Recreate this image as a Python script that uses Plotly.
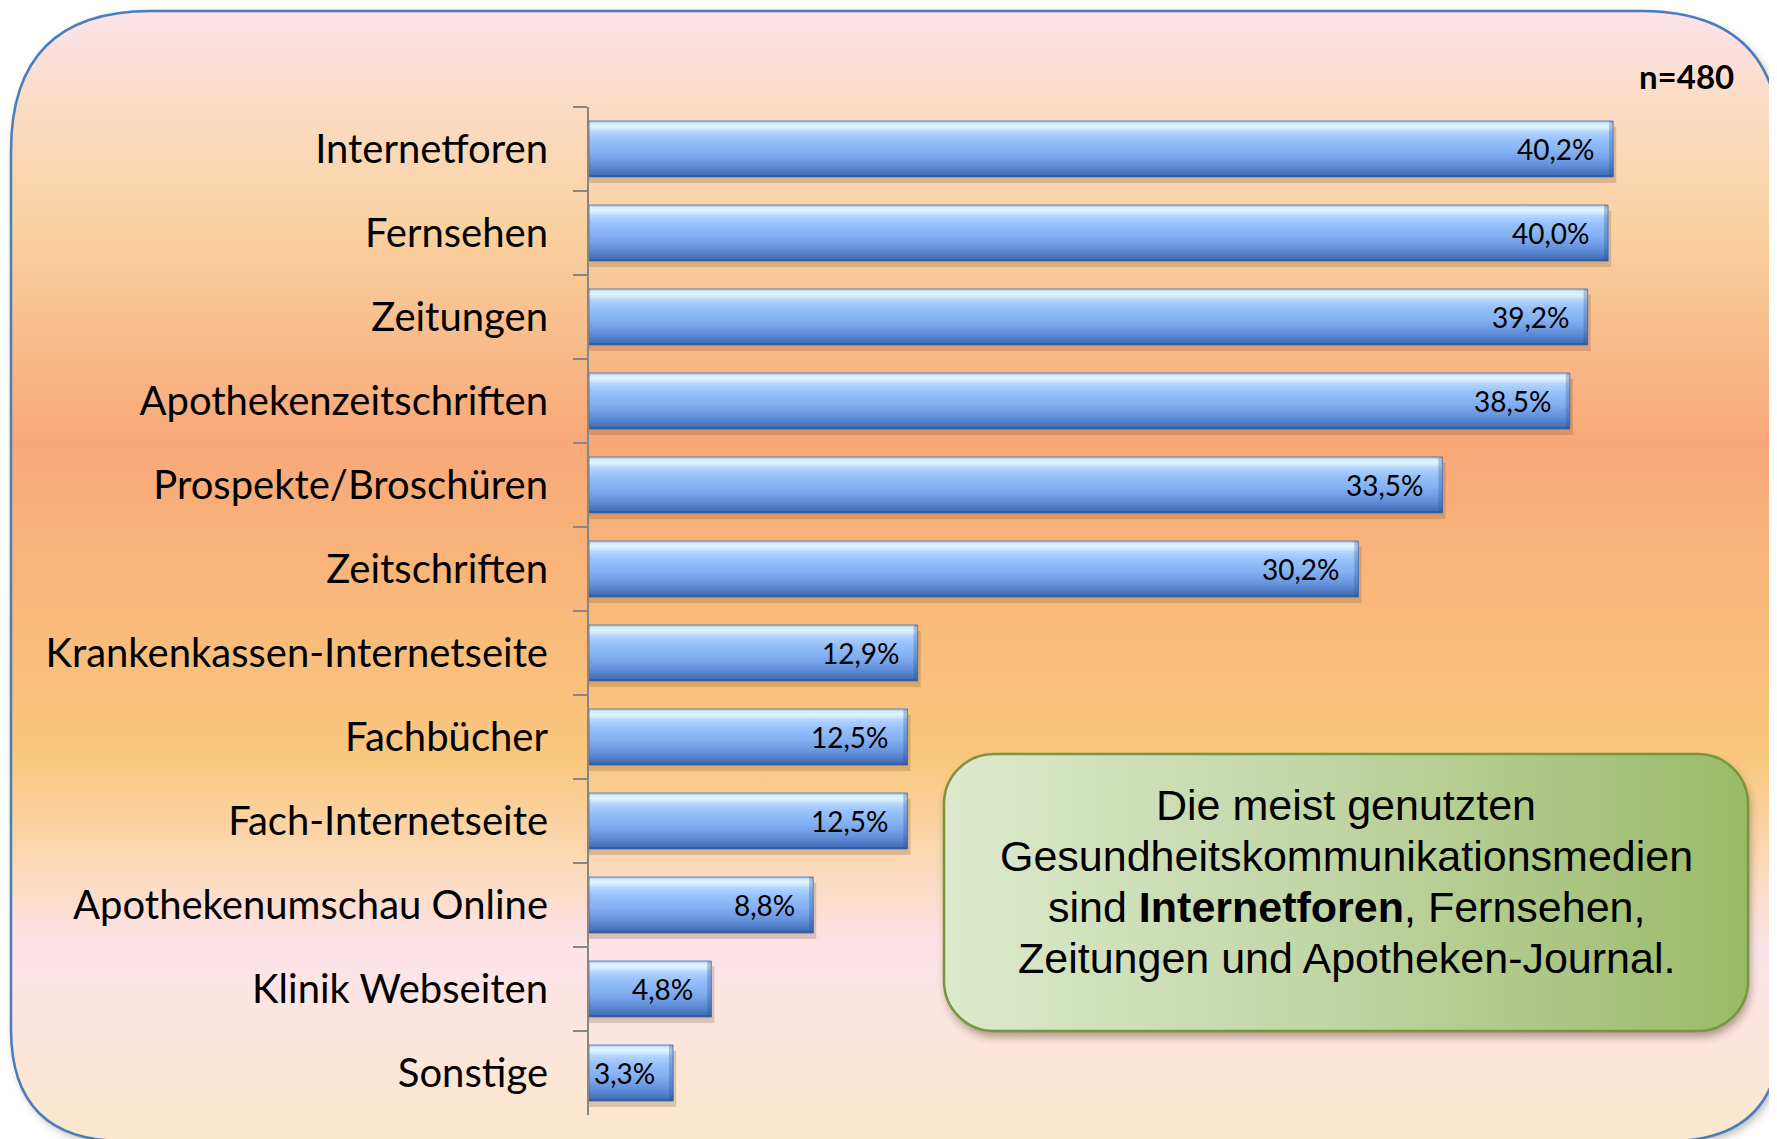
import base64
import plotly.graph_objects as go

# ---------------- data ----------------
categories = [
    "Internetforen", "Fernsehen", "Zeitungen", "Apothekenzeitschriften",
    "Prospekte/Broschüren", "Zeitschriften", "Krankenkassen-Internetseite",
    "Fachbücher", "Fach-Internetseite", "Apothekenumschau Online",
    "Klinik Webseiten", "Sonstige",
]
values = [40.2, 40.0, 39.2, 38.5, 33.5, 30.2, 12.9, 12.5, 12.5, 8.8, 4.8, 3.3]
value_labels = [f"{v:.1f}".replace(".", ",") + "%" for v in values]
sample_label = "n=480"
box_lines = [
    "Die meist genutzten",
    "Gesundheitskommunikationsmedien",
    "sind <b>Internetforen</b>, Fernsehen,",
    "Zeitungen und Apotheken-Journal.",
]

# ---------------- geometry ----------------
W, H = 1777, 1139
OFF = 8  # page body margin of the html output
PLOT_L, PLOT_R, PLOT_T, PLOT_B = 589, 1659, 107, 1115  # in screenshot pixels
ML = PLOT_L - OFF
MT = PLOT_T - OFF
MR = W - (PLOT_R - OFF)
MB = H - (PLOT_B - OFF)
PW, PH = W - ML - MR, H - MT - MB
UNIT = (PLOT_R - PLOT_L) / 42.0


def px_to_paper_x(px):
    return (px - OFF - ML) / PW


def px_to_paper_y(py):
    return 1 - (py - OFF - MT) / PH


# ---------------- background (decoration) as SVG ----------------
x0, y0, x1, y1 = 11, 11, 1781, 1141
rt, rb = 140, 112
bg_path = (f"M{x0 + rt},{y0} L{x1 - rt},{y0} Q{x1},{y0} {x1},{y0 + rt} "
           f"L{x1},{y1 - rb} Q{x1},{y1} {x1 - rb},{y1} L{x0 + rb},{y1} "
           f"Q{x0},{y1} {x0},{y1 - rb} L{x0},{y0 + rt} Q{x0},{y0} {x0 + rt},{y0} Z")
stops = [(11, "#fde3ec"), (100, "#fbdcc6"), (230, "#f9d1a0"), (440, "#f8a878"),
         (620, "#f9ba7a"), (760, "#f9c77e"), (860, "#fbd9b6"), (950, "#fde3ea"),
         (1141, "#fbe8cd")]
stop_xml = "".join(
    f'<stop offset="{(y - y0) / (y1 - y0):.4f}" stop-color="{c}"/>' for y, c in stops)
svg = f'''<svg xmlns="http://www.w3.org/2000/svg" width="{W}" height="{H}" viewBox="0 0 {W} {H}">
<defs>
<linearGradient id="bg" gradientUnits="userSpaceOnUse" x1="0" y1="{y0}" x2="0" y2="{y1}">{stop_xml}</linearGradient>
<linearGradient id="gb" x1="0" y1="0" x2="1" y2="0">
<stop offset="0" stop-color="#dde9cd"/><stop offset="0.5" stop-color="#bfd4a2"/><stop offset="1" stop-color="#9aba68"/></linearGradient>
<filter id="sh" x="-10%" y="-10%" width="120%" height="130%"><feGaussianBlur stdDeviation="4"/></filter>
</defs>
<g transform="translate({-OFF},{-OFF})">
<path d="{bg_path}" transform="translate(3,4)" fill="rgba(60,60,60,0.35)" filter="url(#sh)"/>
<path d="{bg_path}" fill="url(#bg)" stroke="#4a7ebb" stroke-width="2.5"/>
<rect x="946" y="760" width="804" height="277" rx="50" ry="50" fill="rgba(80,50,30,0.45)" filter="url(#sh)"/>
<rect x="944" y="754" width="804" height="277" rx="50" ry="50" fill="url(#gb)" stroke="#77973f" stroke-width="2.5"/>
</g>
</svg>'''
svg_uri = "data:image/svg+xml;base64," + base64.b64encode(svg.encode("utf-8")).decode()

fig = go.Figure()

# ---------------- bars (glossy look via layered bar traces) ----------------
BW = 0.667
top = -BW / 2

# drop shadow
fig.add_trace(go.Bar(
    y=categories, x=[v + 0.12 for v in values], orientation="h", width=BW, offset=top + 0.07,
    marker=dict(color="rgba(110,70,40,0.22)", line=dict(width=0)),
    hoverinfo="skip", showlegend=False))

grad = [(0.00, (150, 190, 235)), (0.03, (205, 235, 255)), (0.10, (225, 247, 255)),
        (0.20, (178, 212, 255)), (0.35, (150, 192, 250)), (0.55, (132, 176, 242)),
        (0.72, (108, 154, 226)), (0.86, (84, 130, 205)), (0.95, (68, 112, 182)),
        (1.00, (45, 85, 140))]


def col_at(f):
    for (f0, c0), (f1, c1) in zip(grad[:-1], grad[1:]):
        if f0 <= f <= f1:
            t = 0 if f1 == f0 else (f - f0) / (f1 - f0)
            return "rgb(%d,%d,%d)" % tuple(round(a + (b - a) * t) for a, b in zip(c0, c1))
    return "rgb(%d,%d,%d)" % grad[-1][1]


N = 28
for k in range(N):
    f = k / N
    fig.add_trace(go.Bar(
        y=categories, x=values, orientation="h",
        width=BW * (1 - f), offset=top + BW * f,
        marker=dict(color=col_at(f + 0.5 / N), line=dict(width=0)),
        hoverinfo="skip", showlegend=False))

# right-end darkening (bevel)
fig.add_trace(go.Bar(
    y=categories, x=[0.16] * len(values), base=[v - 0.16 for v in values], orientation="h",
    width=BW, offset=top,
    marker=dict(color="rgba(40,80,140,0.30)", line=dict(width=0)),
    hoverinfo="skip", showlegend=False))

# outline
fig.add_trace(go.Bar(
    y=categories, x=values, orientation="h", width=BW, offset=top,
    marker=dict(color="rgba(0,0,0,0)", line=dict(color="rgba(60,100,165,0.75)", width=1)),
    hoverinfo="skip", showlegend=False))

annotations = []
for c, v, lab in zip(categories, values, value_labels):
    annotations.append(dict(
        x=v, y=c, xref="x", yref="y", text=lab, showarrow=False,
        xanchor="right", yanchor="middle", xshift=-16,
        font=dict(family="Lato", size=28, color="#000000")))

annotations.append(dict(
    x=px_to_paper_x(1736), y=px_to_paper_y(76), xref="paper", yref="paper",
    text=f"<b>{sample_label}</b>", showarrow=False, xanchor="right", yanchor="middle",
    font=dict(family="Lato", size=33, color="#000000")))

line_y = [805, 856, 907, 958]
for t, py in zip(box_lines, line_y):
    annotations.append(dict(
        x=px_to_paper_x(1346), y=px_to_paper_y(py), xref="paper", yref="paper",
        text=t, showarrow=False, xanchor="center", yanchor="middle",
        font=dict(family="Liberation Sans, Arial", size=43, color="#000000")))

fig.update_layout(
    width=W, height=H,
    margin=dict(l=ML, r=MR, t=MT, b=MB, pad=0, autoexpand=False),
    paper_bgcolor="white", plot_bgcolor="rgba(0,0,0,0)",
    barmode="overlay", showlegend=False,
    annotations=annotations,
    images=[dict(source=svg_uri, xref="paper", yref="paper",
                 x=-ML / PW, y=1 + MT / PH,
                 sizex=W / PW, sizey=H / PH, sizing="stretch",
                 xanchor="left", yanchor="top", layer="below")],
    xaxis=dict(range=[0, 42], visible=False, fixedrange=True),
    yaxis=dict(
        type="category", categoryorder="array", categoryarray=categories,
        autorange="reversed", showgrid=False, zeroline=False,
        showline=True, linecolor="#868686", linewidth=2,
        ticks="outside", tickson="boundaries", ticklen=14, tickcolor="#868686", tickwidth=2,
        ticklabelstandoff=31, automargin=False,
        tickfont=dict(family="Lato", size=40, color="#000000")),
)

fig.write_html("out.html", config={"displayModeBar": False})
